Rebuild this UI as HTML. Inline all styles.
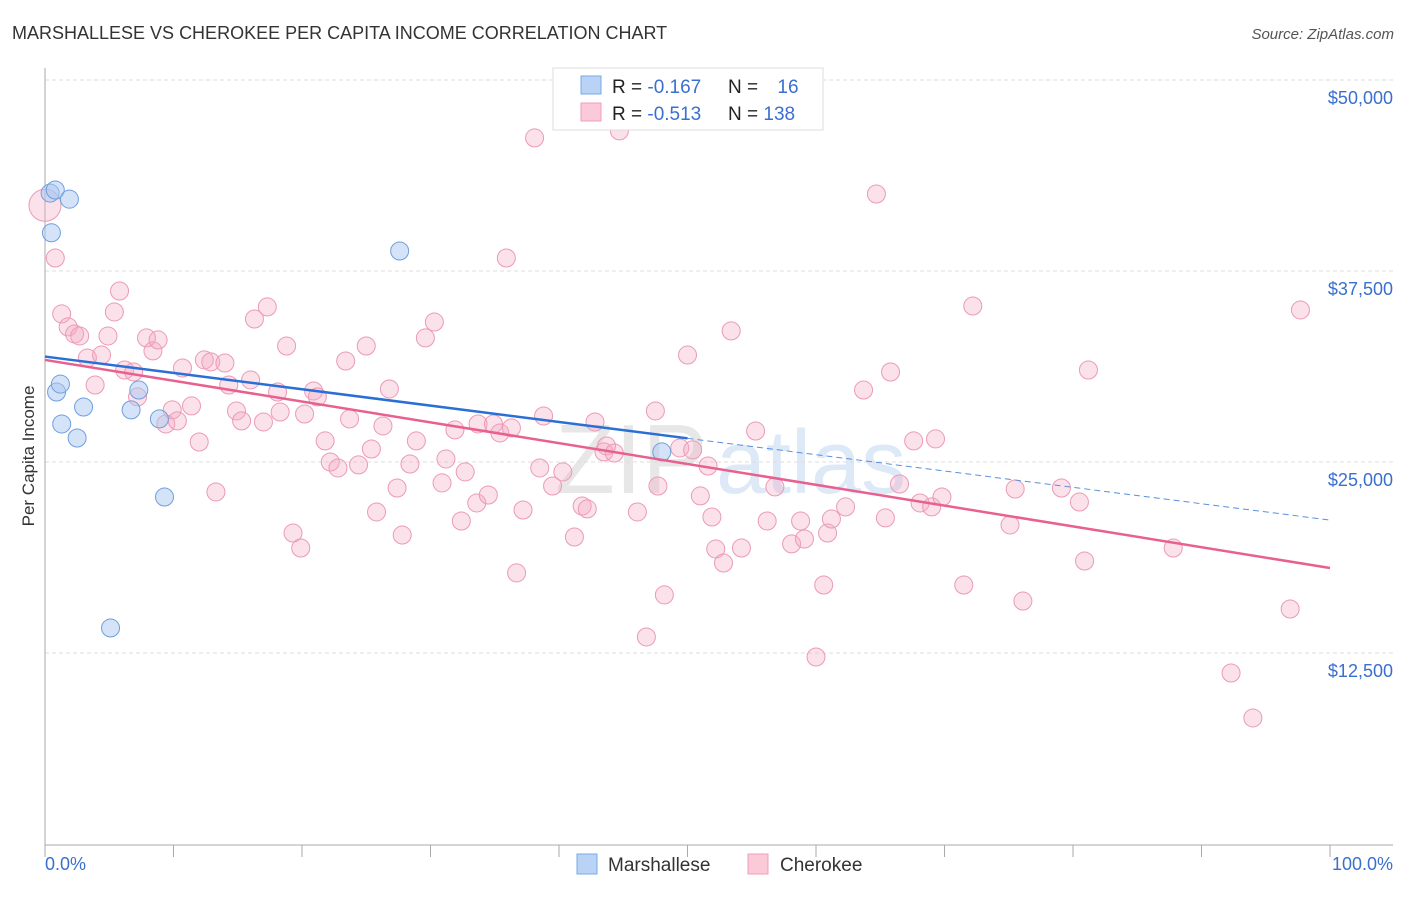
<!DOCTYPE html>
<html><head><meta charset="utf-8"><style>
body{margin:0;background:#fff;font-family:"Liberation Sans",sans-serif;}
svg text{font-family:"Liberation Sans",sans-serif;}
</style></head><body>
<svg id="chart" width="1406" height="892" xmlns="http://www.w3.org/2000/svg">
<text x="12" y="39" font-size="18" fill="#333">MARSHALLESE VS CHEROKEE PER CAPITA INCOME CORRELATION CHART</text>
<text x="1394" y="39" font-size="15" fill="#555" text-anchor="end" font-style="italic">Source: ZipAtlas.com</text>
<g>
<text x="555" y="493" font-size="98" fill="#d8d8d8" font-family="Liberation Serif,serif" opacity="0.6">ZIP</text>
<text x="716" y="493" font-size="90" fill="#c9dcf3" opacity="0.6">atlas</text>
</g>
<g id="grid"></g>
<g id="axes"></g>
<g id="marks"></g>
<text transform="translate(34,456) rotate(-90)" font-size="17" fill="#333" text-anchor="middle">Per Capita Income</text>
<g>
<rect x="553" y="68" width="270" height="62" fill="#fff" stroke="#ddd"/>
<rect x="581" y="76" width="20" height="18" fill="#b8d3f5" stroke="#7aa7e6"/>
<rect x="581" y="103" width="20" height="18" fill="#fbc9d8" stroke="#ee9db8"/>
<text x="612" y="93" font-size="19" fill="#222">R = <tspan fill="#3a6fd0">-0.167</tspan></text>
<text x="728" y="93" font-size="19" fill="#222">N = <tspan fill="#3a6fd0" dx="14">16</tspan></text>
<text x="612" y="120" font-size="19" fill="#222">R = <tspan fill="#3a6fd0">-0.513</tspan></text>
<text x="728" y="120" font-size="19" fill="#222">N = <tspan fill="#3a6fd0">138</tspan></text>
</g>
<g>
<rect x="577" y="854" width="20" height="20" fill="#b8d3f5" stroke="#7aa7e6"/>
<text x="608" y="871" font-size="19" fill="#333">Marshallese</text>
<rect x="748" y="854" width="20" height="20" fill="#fbc9d8" stroke="#ee9db8"/>
<text x="780" y="871" font-size="19" fill="#333">Cherokee</text>
</g>
</svg>
<script>
const yTicks=[12500,25000,37500,50000];
const yTickLabels=["$12,500","$25,000","$37,500","$50,000"];
const xTicks=[0,10,20,30,40,50,60,70,80,90,100];
const blueX=[0.4,0.8,1.9,0.5,0.9,1.2,1.3,2.5,3.0,6.7,7.3,8.9,9.3,5.1,27.6,48.0];
const blueY=[42600,42800,42200,40000,29580,30100,27490,26570,28600,28410,29710,27820,22710,14140,38810,25660];
const pinkX=[0.0,0.8,1.3,1.8,2.3,2.7,4.9,3.3,4.4,3.9,5.4,5.8,6.2,6.9,7.2,7.9,8.4,8.8,9.9,9.4,10.3,10.7,11.4,12.0,12.4,12.9,13.3,14.0,14.3,14.9,15.3,16.0,16.3,17.0,17.3,18.1,18.3,18.8,19.3,19.9,20.2,20.9,21.2,21.8,22.2,22.8,23.4,23.7,24.4,25.0,25.4,25.8,26.3,26.8,27.4,27.8,28.4,28.9,29.6,30.3,30.9,31.2,31.9,32.4,32.7,33.6,33.7,34.5,34.9,35.4,35.9,36.3,36.7,37.2,38.1,38.5,38.8,39.5,40.3,41.2,41.8,42.2,42.8,43.5,43.7,44.3,44.7,46.1,46.8,47.5,47.7,48.2,49.4,50.0,50.4,51.0,51.6,51.9,52.2,52.8,53.4,54.2,55.3,56.2,56.8,58.1,58.8,59.1,60.0,60.6,60.9,61.2,62.3,63.7,64.7,65.4,65.8,66.5,67.6,68.1,69.0,69.3,69.8,71.5,72.2,75.1,75.5,76.1,79.1,80.5,80.9,81.2,87.8,92.3,94.0,96.9,97.7];
const pinkY=[41800,38350,34690,33840,33380,33250,33250,31810,32000,30040,34820,36190,31020,30890,29260,33120,32270,32990,28410,27490,27690,31150,28670,26310,31680,31550,23040,31480,30040,28340,27690,30370,34360,27620,35150,29580,28270,32590,20350,19370,28140,29650,29260,26380,25000,24610,31610,27820,24810,32590,25850,21730,27360,29780,23300,20220,24870,26380,33120,34160,23630,25200,27100,21140,24350,22320,27490,22840,27490,26900,38350,27230,17740,21860,46210,24610,28010,23430,24350,20090,22120,21930,27620,25660,26050,25590,46670,21730,13550,28340,23430,16300,25920,32000,25790,22780,24740,21400,19310,18390,33580,19370,27030,21140,23370,19640,21140,19960,12240,16950,20350,21270,22060,29710,42540,21340,30890,23560,26380,22320,22060,26510,22710,16950,35210,20880,23230,15900,23300,22380,18520,31020,19370,11190,8250,15380,34950];
const blueTrendY=[31900,21200];
const pinkTrendY=[31680,18060];
const blueSolidEnd=50;
const NS="http://www.w3.org/2000/svg";
const X=v=>45+v*12.85, Y=v=>844-v*191/12500;
function mk(tag,attrs,parent){const e=document.createElementNS(NS,tag);for(const k in attrs)e.setAttribute(k,attrs[k]);document.getElementById(parent).appendChild(e);return e;}
yTicks.forEach((t,i)=>{
 const g=mk('line',{x1:45,x2:1393,y1:Y(t),y2:Y(t),stroke:'#ddd','stroke-dasharray':'4,3'},'grid');
 
 
 const l=mk('text',{x:1393,y:Y(t)+24,'font-size':18,fill:'#3a6fd0','text-anchor':'end'},'grid');
 l.textContent=yTickLabels[i];
 
 
});
{const g=mk('line',{x1:45,x2:1393,y1:80,y2:80,stroke:'#ddd','stroke-dasharray':'4,3'},'grid');
 
 }
{const a=mk('line',{x1:45,x2:45,y1:68,y2:845,stroke:'#aaa'},'axes');
 
 
 const b=mk('line',{x1:45,x2:1393,y1:845,y2:845,stroke:'#aaa'},'axes');
 
 }
xTicks.forEach(t=>{
 const k=mk('line',{x1:X(t),x2:X(t),y1:845,y2:857,stroke:'#aaa'},'axes');
 
 
});
{const l=mk('text',{x:45,y:870,'font-size':18,fill:'#3a6fd0'},'axes');l.textContent=xTicks[0].toFixed(1)+'%';
 
 
 const r=mk('text',{x:1393,y:870,'font-size':18,fill:'#3a6fd0','text-anchor':'end'},'axes');r.textContent=xTicks[xTicks.length-1].toFixed(1)+'%';
 
 }
pinkX.forEach((x,i)=>{
 const c=mk('circle',{cx:X(x),cy:Y(pinkY[i]),r:i===0?16:9,fill:'rgba(244,170,196,0.35)',stroke:'#ec9ab5','stroke-width':1},'marks');
 
 
});
blueX.forEach((x,i)=>{
 const c=mk('circle',{cx:X(x),cy:Y(blueY[i]),r:9,fill:'rgba(170,200,240,0.5)',stroke:'#6f9fe0','stroke-width':1},'marks');
 
 
});
const by=v=>blueTrendY[0]+(blueTrendY[1]-blueTrendY[0])*v/100;
{const s=mk('line',{x1:X(0),y1:Y(by(0)),x2:X(blueSolidEnd),y2:Y(by(blueSolidEnd)),stroke:'#2a6fd6','stroke-width':2.5},'marks');
 
 
 const d=mk('line',{x1:X(blueSolidEnd),y1:Y(by(blueSolidEnd)),x2:X(100),y2:Y(by(100)),stroke:'#5a8fe0','stroke-width':1,'stroke-dasharray':'6,4'},'marks');
 
 
 const p=mk('line',{x1:X(0),y1:Y(pinkTrendY[0]),x2:X(100),y2:Y(pinkTrendY[1]),stroke:'#e86090','stroke-width':2.5},'marks');
 
 }
</script>
</body></html>
